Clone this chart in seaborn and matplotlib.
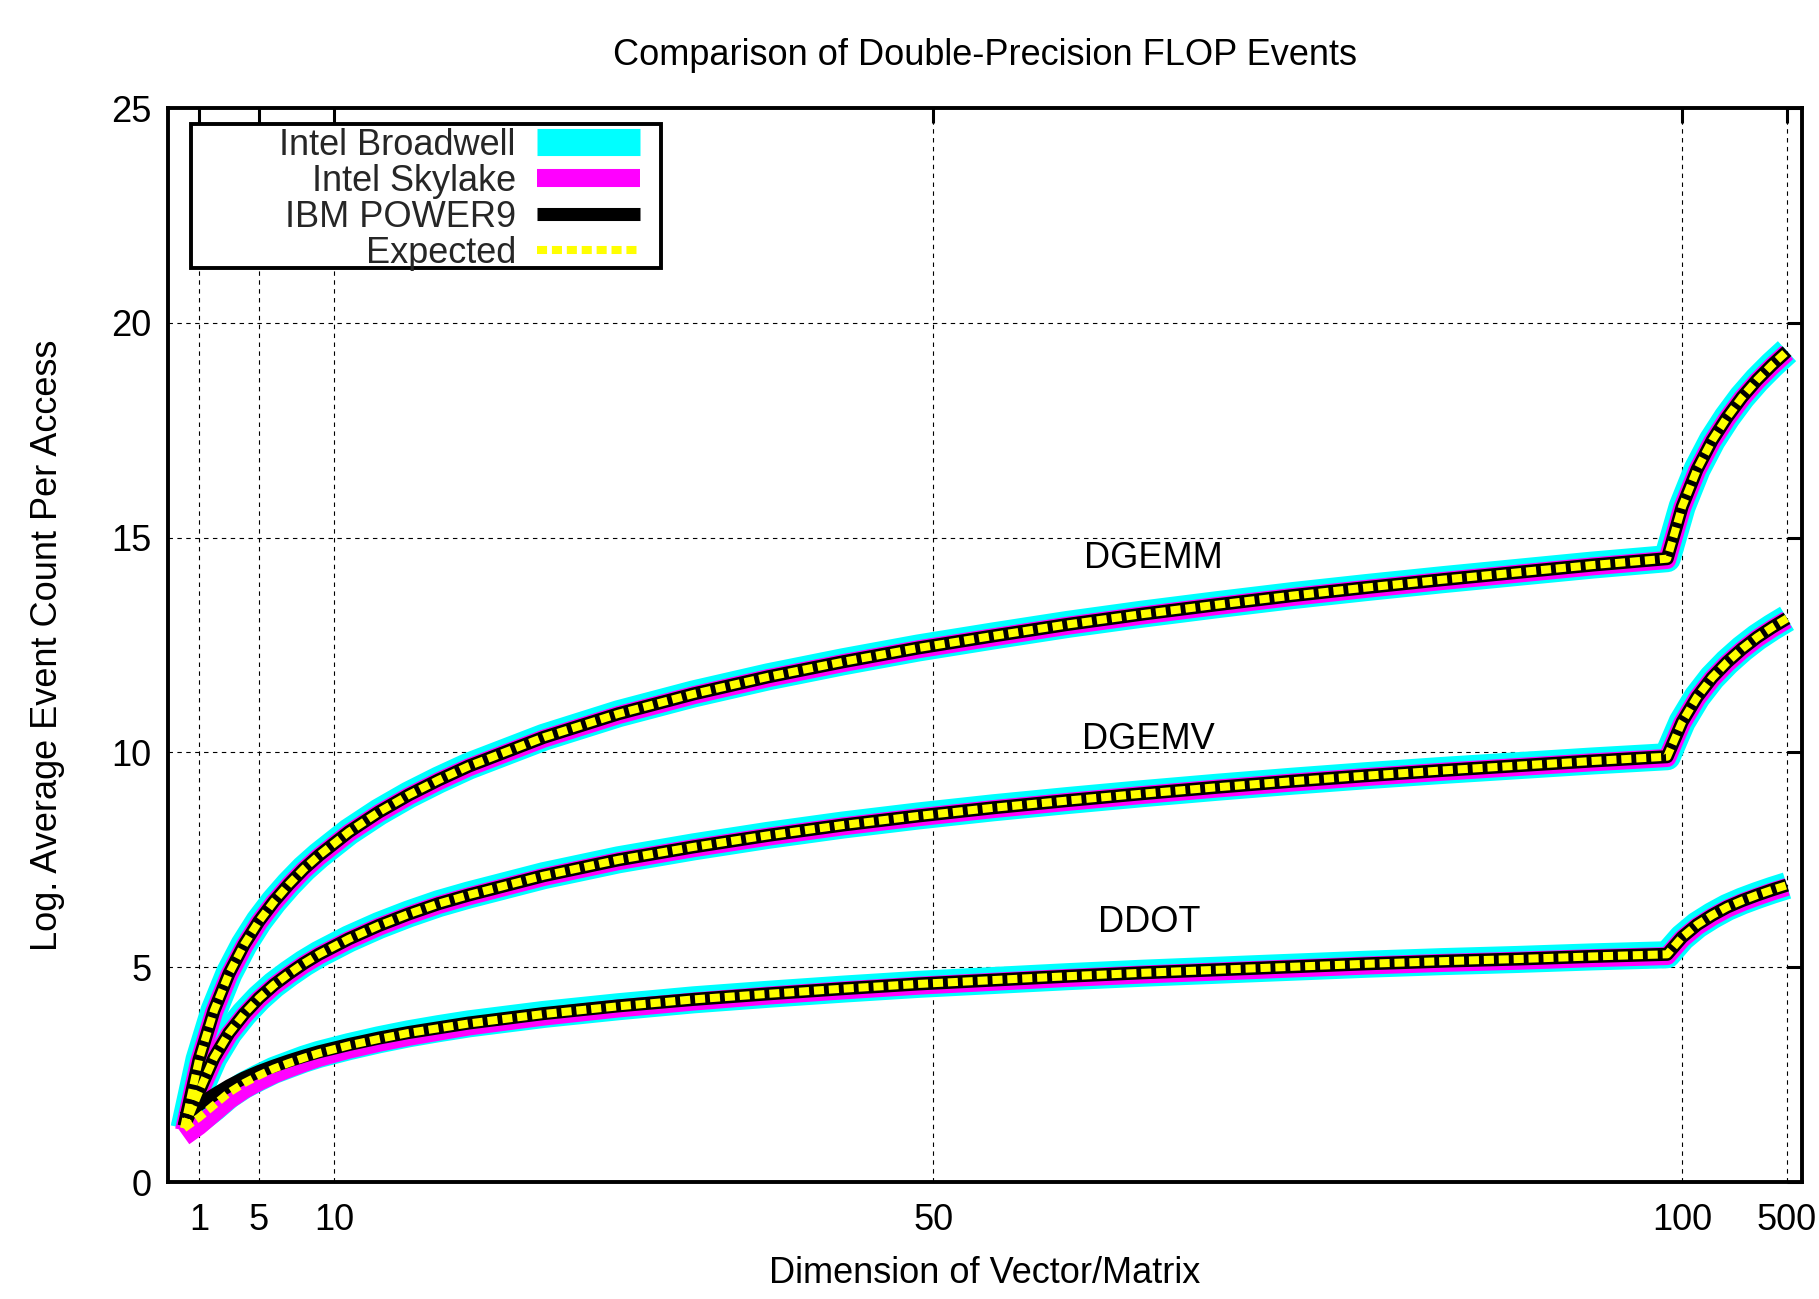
import matplotlib
matplotlib.use("Agg")
import matplotlib.pyplot as plt
from matplotlib.patches import Rectangle
import seaborn as sns
import pandas as pd

# ---------------- data ----------------
dims = [1, 2, 3, 4, 5, 6, 7, 8, 9, 10, 12, 14, 16, 18, 20, 25, 30, 35, 40, 45,
        50, 55, 60, 65, 70, 75, 80, 85, 90, 95, 100,
        150, 200, 250, 300, 350, 400, 450, 500]

ddot_expected = [1.25, 1.50, 1.79, 2.08, 2.30, 2.48, 2.64, 2.77, 2.89, 3.00, 3.18, 3.33, 3.47, 3.58, 3.69,
                 3.91, 4.09, 4.25, 4.38, 4.50, 4.61, 4.70, 4.79, 4.87, 4.94, 5.01, 5.08, 5.14, 5.19, 5.25,
                 5.30, 5.70, 5.99, 6.21, 6.40, 6.55, 6.68, 6.80, 6.91]
ddot_broadwell = [1.20, 1.45, 1.72, 2.02, 2.25, 2.43, 2.60, 2.73, 2.86, 2.97, 3.15, 3.31, 3.45, 3.57, 3.68,
                  3.90, 4.08, 4.24, 4.37, 4.49, 4.60, 4.69, 4.78, 4.86, 4.93, 5.00, 5.07, 5.13, 5.18, 5.24,
                  5.29, 5.69, 5.98, 6.20, 6.39, 6.54, 6.67, 6.79, 6.90]
ddot_skylake = [1.05, 1.30, 1.60, 1.90, 2.14, 2.33, 2.50, 2.64, 2.77, 2.89, 3.08, 3.24, 3.38, 3.50, 3.62,
                3.85, 4.04, 4.20, 4.34, 4.46, 4.57, 4.66, 4.75, 4.83, 4.90, 4.97, 5.04, 5.10, 5.15, 5.21,
                5.26, 5.66, 5.95, 6.17, 6.36, 6.51, 6.64, 6.76, 6.87]
ddot_power9 = [1.50, 1.80, 2.03, 2.24, 2.42, 2.57, 2.70, 2.82, 2.93, 3.03, 3.20, 3.35, 3.48, 3.59, 3.70,
               3.92, 4.10, 4.25, 4.38, 4.50, 4.61, 4.70, 4.79, 4.87, 4.94, 5.01, 5.08, 5.14, 5.19, 5.25,
               5.30, 5.70, 5.99, 6.21, 6.40, 6.55, 6.68, 6.80, 6.91]

dgemv_expected = [1.25, 2.10, 2.89, 3.47, 3.91, 4.28, 4.59, 4.85, 5.09, 5.30, 5.66, 5.97, 6.24, 6.48, 6.68,
                  7.13, 7.50, 7.80, 8.07, 8.31, 8.52, 8.71, 8.88, 9.04, 9.19, 9.33, 9.46, 9.58, 9.69, 9.80,
                  9.90, 10.71, 11.29, 11.74, 12.10, 12.41, 12.68, 12.91, 13.12]
dgemv_broadwell = [1.25, 2.10, 2.89, 3.47, 3.91, 4.28, 4.59, 4.85, 5.09, 5.30, 5.66, 5.97, 6.24, 6.48, 6.68,
                   7.13, 7.50, 7.80, 8.07, 8.31, 8.52, 8.71, 8.88, 9.04, 9.19, 9.33, 9.46, 9.58, 9.69, 9.80,
                   9.90, 10.71, 11.29, 11.74, 12.10, 12.41, 12.68, 12.91, 13.12]
dgemv_skylake = [1.20, 2.05, 2.85, 3.43, 3.87, 4.25, 4.56, 4.82, 5.06, 5.27, 5.63, 5.94, 6.21, 6.45, 6.65,
                 7.10, 7.47, 7.77, 8.04, 8.28, 8.49, 8.68, 8.85, 9.01, 9.16, 9.30, 9.43, 9.55, 9.66, 9.77,
                 9.87, 10.68, 11.26, 11.71, 12.07, 12.38, 12.65, 12.88, 13.09]
dgemv_power9 = [1.30, 2.10, 2.89, 3.47, 3.91, 4.28, 4.59, 4.85, 5.09, 5.30, 5.66, 5.97, 6.24, 6.48, 6.68,
                7.13, 7.50, 7.80, 8.07, 8.31, 8.52, 8.71, 8.88, 9.04, 9.19, 9.33, 9.46, 9.58, 9.69, 9.80,
                9.90, 10.71, 11.29, 11.74, 12.10, 12.41, 12.68, 12.91, 13.12]

dgemm_expected = [1.25, 2.85, 3.99, 4.85, 5.52, 6.07, 6.53, 6.93, 7.29, 7.60, 8.15, 8.61, 9.01, 9.36, 9.68,
                  10.35, 10.90, 11.36, 11.76, 12.11, 12.43, 12.71, 12.98, 13.22, 13.44, 13.65, 13.84, 14.02,
                  14.19, 14.36, 14.51, 15.72, 16.59, 17.26, 17.80, 18.27, 18.67, 19.02, 19.34]
dgemm_broadwell = [1.25, 2.85, 3.99, 4.85, 5.52, 6.07, 6.53, 6.93, 7.29, 7.60, 8.15, 8.61, 9.01, 9.36, 9.68,
                   10.35, 10.90, 11.36, 11.76, 12.11, 12.43, 12.71, 12.98, 13.22, 13.44, 13.65, 13.84, 14.02,
                   14.19, 14.36, 14.51, 15.72, 16.59, 17.26, 17.80, 18.27, 18.67, 19.02, 19.34]
dgemm_skylake = [1.20, 2.80, 3.95, 4.81, 5.48, 6.04, 6.50, 6.90, 7.26, 7.57, 8.12, 8.58, 8.98, 9.33, 9.65,
                 10.32, 10.87, 11.33, 11.73, 12.08, 12.40, 12.68, 12.95, 13.19, 13.41, 13.62, 13.81, 13.99,
                 14.16, 14.33, 14.48, 15.69, 16.56, 17.23, 17.77, 18.24, 18.64, 18.99, 19.31]
dgemm_power9 = [1.30, 2.85, 3.99, 4.85, 5.52, 6.07, 6.53, 6.93, 7.29, 7.60, 8.15, 8.61, 9.01, 9.36, 9.68,
                10.35, 10.90, 11.36, 11.76, 12.11, 12.43, 12.71, 12.98, 13.22, 13.44, 13.65, 13.84, 14.02,
                14.19, 14.36, 14.51, 15.72, 16.59, 17.26, 17.80, 18.27, 18.67, 19.02, 19.34]

series_names = ["Intel Broadwell", "Intel Skylake", "IBM POWER9", "Expected"]
kernel_names = ["DDOT", "DGEMV", "DGEMM"]
xtick_labels = ["1", "5", "10", "50", "100", "500"]
xtick_values = [1, 5, 10, 50, 100, 107]
ytick_values = [0, 5, 10, 15, 20, 25]

# The x axis of the reference is a row index: dims 1..100 sit at 0..99,
# and 150..500 continue one step per 50.
def axis_index(n):
    return n - 1 if n <= 100 else 99 + (n - 100) / 50

xidx = [axis_index(n) for n in dims]

data = {
    "Intel Broadwell": [ddot_broadwell, dgemv_broadwell, dgemm_broadwell],
    "Intel Skylake": [ddot_skylake, dgemv_skylake, dgemm_skylake],
    "IBM POWER9": [ddot_power9, dgemv_power9, dgemm_power9],
    "Expected": [ddot_expected, dgemv_expected, dgemm_expected],
}

styles = {
    "Intel Broadwell": dict(color="#00ffff", linewidth=19.5, linestyle="-"),
    "Intel Skylake": dict(color="#ff00ff", linewidth=13.0, linestyle="-"),
    "IBM POWER9": dict(color="#000000", linewidth=9.4, linestyle="-"),
    "Expected": dict(color="#ffff00", linewidth=5.8, linestyle=(0, (1.25, 0.6))),
}

# ---------------- figure ----------------
sns.set_theme(style="white")
plt.rcParams["font.family"] = ["Liberation Sans", "DejaVu Sans"]
FS = 26

W, H = 1819, 1299
fig = plt.figure(figsize=(W / 100, H / 100), dpi=100)
ax = fig.add_axes([168 / W, 1 - 1182 / H, (1802 - 168) / W, (1182 - 108) / H])

handles = {}
for name in series_names:
    for k, ys in enumerate(data[name]):
        df = pd.DataFrame({"x": xidx, "y": ys})
        sns.lineplot(data=df, x="x", y="y", ax=ax, sort=False, estimator=None,
                     legend=False, solid_capstyle="butt", solid_joinstyle="round",
                     dash_capstyle="butt", **styles[name])
        if k == 0:
            handles[name] = ax.lines[-1]

ax.set_xlim(-1.07, 108.0)
ax.set_ylim(0, 25)
ax.set_xticks(xtick_values)
ax.set_xticklabels(xtick_labels)
ax.set_yticks(ytick_values)
ax.tick_params(axis="both", which="major", direction="in", length=11, width=2.2,
               top=True, right=True, labelsize=FS, colors="black", pad=12)
ax.tick_params(axis="x", pad=15)
ax.grid(True, color="black", linewidth=0.8, linestyle=(0, (4, 4)))
ax.set_axisbelow(True)
for sp in ax.spines.values():
    sp.set_linewidth(2.8)
    sp.set_color("black")
    sp.set_zorder(5)

ax.set_xlabel("Dimension of Vector/Matrix", fontsize=FS, labelpad=13, color="black")
ax.set_ylabel("Log. Average Event Count Per Access", fontsize=FS, labelpad=33, color="black")
ax.set_title("Comparison of Double-Precision FLOP Events", fontsize=FS, pad=31, color="black")

ax.text(64.7, 14.52, "DGEMM", fontsize=FS, ha="center", va="center", color="black")
ax.text(64.4, 10.31, "DGEMV", fontsize=FS, ha="center", va="center", color="black")
ax.text(64.4, 6.04, "DDOT", fontsize=FS, ha="center", va="center", color="black")

# legend frame (gnuplot-style key box) and its entries
ax.add_patch(Rectangle((0.01408, 0.85102), 0.3017 - 0.01408, 0.98510 - 0.85102,
                       transform=ax.transAxes, facecolor="white", edgecolor="black",
                       linewidth=2.8, zorder=9))
leg = ax.legend([handles[n] for n in series_names], series_names,
                loc="upper right", bbox_to_anchor=(0.2889, 0.9815), borderaxespad=0,
                markerfirst=False, fontsize=FS, handlelength=2.86, handletextpad=0.58,
                labelspacing=0.025, borderpad=0.0, frameon=False)
leg.set_zorder(10)

fig.savefig("out.png", dpi=100)
